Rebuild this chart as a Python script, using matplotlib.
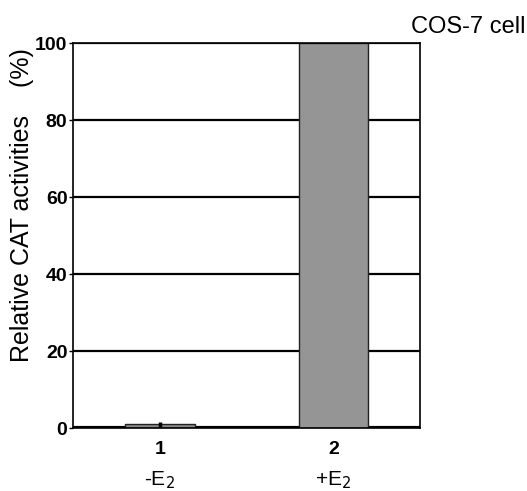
import matplotlib
matplotlib.use("Agg")
import matplotlib.pyplot as plt

plt.rcParams['font.family'] = ['Liberation Sans', 'DejaVu Sans']

lanes = [1, 2]
lane_labels = ['1', '2']
treatments = ['-E$_2$', '+E$_2$']
activity = [1.0, 100.0]
errors = [0.6, 0.0]
bar_colors = ['#8a8a8a', '#959595']

fig = plt.figure(figsize=(5.27, 4.91), dpi=100)
ax = fig.add_axes([0.1385, 0.128, 0.659, 0.784])

for y in [20, 40, 60, 80, 100]:
    ax.axhline(y, color='black', lw=1.6, zorder=1)
ax.axhline(0, color='black', lw=3, zorder=1)

ax.bar(lanes, activity, width=0.4, color=bar_colors, edgecolor='#222222',
       linewidth=1.0, zorder=2)
ax.errorbar(lanes[0], activity[0], yerr=errors[0], fmt='none', ecolor='black',
            elinewidth=2.5, capsize=0, zorder=3)

num_font = dict(fontsize=14, fontweight='bold')
ax.set_xlim(0.5, 2.5)
ax.set_ylim(0, 100)
ax.set_yticks([0, 20, 40, 60, 80, 100])
ax.set_yticklabels(['0', '20', '40', '60', '80', '100'], **num_font)
ax.tick_params(axis='y', length=3, width=1, pad=1)
ax.set_xticks(lanes)
ax.set_xticklabels(lane_labels, **num_font)
ax.tick_params(axis='x', length=0, pad=9)
for x, t in zip(lanes, treatments):
    ax.text(x, -0.135, t, transform=ax.get_xaxis_transform(), ha='center',
            va='center', fontsize=15)

for s in ax.spines.values():
    s.set_linewidth(1.2)

fig.text(0.042, 0.582, 'Relative CAT activities    (%)', rotation=90,
         ha='center', va='center', fontsize=18)
fig.text(0.997, 0.945, 'COS-7 cell', ha='right', va='center', fontsize=17)

fig.savefig('out.png', dpi=100)
